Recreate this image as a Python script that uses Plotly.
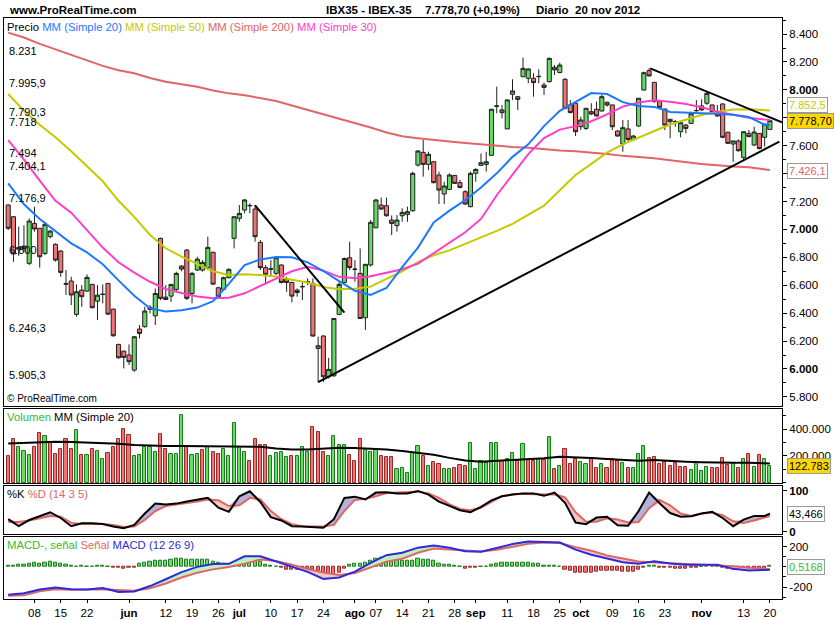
import pandas as pd
import plotly.graph_objects as go
from plotly.subplots import make_subplots

# IBEX-35 daily, 30 Apr - 20 Nov 2012 (market closed 1 May)
dates = [d for d in pd.bdate_range("2012-04-30", "2012-11-20") if d != pd.Timestamp("2012-05-01")]
x = list(range(len(dates)))

opens = [7175, 7091, 6858, 6862, 6757, 7043, 7008, 6828, 6948, 6893,
         6845, 6612, 6630, 6391, 6565, 6558, 6606, 6486, 6536, 6613,
         6429, 6176, 6128, 6100, 5992, 6286, 6303, 6441, 6381, 6936,
         6515, 6522, 6570, 6737, 6852, 6541, 6709, 6709, 6726, 6836,
         6582, 6570, 6654, 6936, 7079, 7139, 7172, 7146, 6907, 6726,
         6718, 6685, 6745, 6644, 6620, 6565, 6591, 6627, 6613, 6147,
         6236, 5944, 5951, 6391, 6620, 6797, 6716, 6685, 6367, 6745,
         7012, 7175, 7170, 7067, 7027, 7098, 7108, 7134, 7461, 7552,
         7466, 7485, 7390, 7254, 7287, 7387, 7335, 7270, 7163, 7402,
         7459, 7466, 7531, 7882, 7837, 7720, 7968, 7951, 8095, 8083,
         8083, 8097, 8035, 8059, 8162, 8124, 8076, 7892, 7904, 7736,
         7724, 7844, 7861, 7849, 7911, 7892, 7705, 7612, 7720, 7645,
         7741, 7999, 8138, 8054, 7916, 7863, 7772, 7771, 7700, 7748,
         7760, 7850, 7885, 7904, 7892, 7844, 7899, 7696, 7612, 7634,
         7516, 7688, 7605, 7688, 7660, 7717]
highs = [7180, 7095, 7020, 7030, 7079, 7163, 7010, 7055, 6996, 6900,
         6852, 6709, 6661, 6606, 6601, 6678, 6610, 6601, 6606, 6615,
         6432, 6180, 6130, 6176, 6236, 6314, 6446, 6458, 6577, 6941,
         6601, 6608, 6697, 6745, 6860, 6697, 6804, 6780, 6948, 6840,
         6589, 6661, 6721, 7093, 7175, 7218, 7187, 7175, 6924, 6745,
         6780, 6809, 6750, 6661, 6625, 6577, 6625, 6649, 6649, 6231,
         6243, 6080, 6365, 6625, 6797, 6912, 6780, 6864, 6752, 7067,
         7218, 7228, 7228, 7100, 7103, 7151, 7163, 7414, 7569, 7641,
         7557, 7490, 7414, 7342, 7402, 7390, 7354, 7282, 7414, 7438,
         7545, 7557, 7861, 8023, 7892, 7932, 8076, 7956, 8231, 8155,
         8119, 8147, 8052, 8231, 8178, 8195, 8083, 7927, 7904, 7808,
         7868, 7904, 7916, 7963, 7916, 7894, 7712, 7784, 7784, 7677,
         7940, 8131, 8155, 8054, 7927, 7863, 7789, 7784, 7772, 7755,
         7844, 7927, 7932, 7987, 7894, 7892, 7904, 7700, 7636, 7645,
         7700, 7712, 7736, 7690, 7756, 7784]
lows = [6996, 6768, 6810, 6838, 6745, 6984, 6726, 6816, 6936, 6769,
        6661, 6530, 6458, 6374, 6446, 6553, 6434, 6350, 6470, 6386,
        6231, 6075, 6004, 6028, 5980, 6219, 6296, 6398, 6315, 6494,
        6494, 6482, 6558, 6700, 6494, 6470, 6702, 6697, 6709, 6601,
        6513, 6565, 6649, 6864, 7055, 7115, 7115, 6912, 6709, 6606,
        6661, 6673, 6613, 6553, 6477, 6518, 6494, 6601, 6231, 5906,
        5906, 5932, 5944, 6386, 6613, 6709, 6625, 6357, 6279, 6733,
        7007, 7139, 7091, 6960, 6984, 7055, 7055, 7127, 7450, 7378,
        7426, 7330, 7182, 7182, 7282, 7325, 7294, 7175, 7158, 7342,
        7454, 7414, 7526, 7832, 7796, 7720, 7927, 7856, 8090, 8047,
        7951, 8047, 7963, 8052, 8107, 8119, 7861, 7832, 7669, 7712,
        7712, 7820, 7808, 7844, 7880, 7712, 7665, 7557, 7629, 7641,
        7736, 7994, 8095, 7908, 7868, 7712, 7653, 7736, 7660, 7688,
        7755, 7844, 7851, 7892, 7832, 7808, 7653, 7612, 7485, 7557,
        7497, 7660, 7598, 7574, 7593, 7717]
closes = [7008, 6824, 6872, 6880, 7060, 7003, 6804, 7036, 6988, 6780,
          6692, 6608, 6530, 6553, 6518, 6656, 6439, 6529, 6534, 6393,
          6238, 6080, 6083, 6052, 6231, 6255, 6415, 6427, 6541, 6506,
          6498, 6606, 6685, 6716, 6506, 6685, 6787, 6764, 6871, 6608,
          6518, 6654, 6714, 7091, 7115, 7211, 7170, 6948, 6726, 6678,
          6716, 6797, 6620, 6620, 6522, 6548, 6589, 6625, 6236, 6166,
          5944, 5997, 6362, 6606, 6792, 6726, 6714, 6362, 6750, 7051,
          7211, 7146, 7098, 7043, 7067, 7122, 7127, 7402, 7562, 7466,
          7538, 7335, 7282, 7311, 7390, 7330, 7301, 7182, 7402, 7430,
          7478, 7485, 7861, 7885, 7856, 7928, 7992, 7932, 8154, 8150,
          8052, 8095, 8018, 8226, 8143, 8178, 7868, 7837, 7700, 7784,
          7868, 7827, 7813, 7951, 7892, 7736, 7669, 7729, 7645, 7669,
          7940, 8123, 8100, 7916, 7875, 7748, 7789, 7773, 7765, 7724,
          7832, 7852, 7856, 7975, 7844, 7813, 7660, 7617, 7634, 7564,
          7700, 7665, 7698, 7579, 7755, 7778.7]

# volume in thousands, colour as drawn ("g" up / "r" down)
volume_k = [199, 323, 263, 236, 206, 263, 367, 348, 305, 213,
            248, 323, 248, 392, 206, 206, 248, 236, 174, 218,
            268, 323, 397, 355, 198, 206, 268, 263, 231, 362,
            248, 213, 213, 504, 268, 206, 213, 243, 268, 231,
            213, 248, 198, 442, 263, 231, 161, 323, 281, 281,
            198, 218, 231, 189, 198, 198, 263, 231, 412, 375,
            231, 198, 348, 281, 281, 206, 161, 323, 243, 231,
            243, 198, 189, 194, 99, 107, 74, 218, 273, 199,
            124, 154, 137, 99, 99, 107, 129, 124, 298, 99,
            164, 149, 298, 298, 164, 174, 223, 161, 286, 169,
            164, 174, 169, 338, 99, 124, 248, 139, 174, 154,
            139, 186, 112, 139, 107, 174, 161, 149, 107, 107,
            213, 273, 181, 189, 139, 156, 124, 149, 114, 114,
            94, 149, 89, 114, 107, 107, 181, 132, 144, 107,
            174, 213, 114, 206, 174, 122.783]
volume_dir = ("rrgggrrgrr" "rrrgrgrggr" "rrrrgggggr" "rgggrggrgr" "rgggggrrrr"
              "ggggrgggrr" "rggggrrrgg" "grrrgggggr" "grrggrrrgg" "ggggrggrgr"
              "rgrgrgrrrg" "grrgrrrgrg" "ggrrrrrrrr" "ggggrrrrgr" "grgrgg")

# moving averages, read every 3 sessions
ma_x = list(range(0, 145, 3)) + [145]
ma20 = [7330, 7180, 7075, 6990, 6900, 6835, 6750, 6635, 6525, 6434,
        6412, 6420, 6440, 6485, 6610, 6745, 6785, 6803, 6800, 6764,
        6702, 6630, 6560, 6530, 6580, 6730, 6870, 7050, 7135, 7210,
        7300, 7402, 7520, 7610, 7740, 7850, 7912, 7977, 7970, 7912,
        7885, 7878, 7842, 7835, 7832, 7828, 7821, 7805, 7750, 7748]
ma30 = [7640, 7500, 7350, 7205, 7120, 6995, 6870, 6765, 6690, 6625,
        6573, 6544, 6520, 6506, 6510, 6542, 6596, 6650, 6700, 6733,
        6705, 6660, 6650, 6665, 6690, 6715, 6755, 6830, 6900, 6980,
        7075, 7245, 7392, 7540, 7655, 7715, 7740, 7775, 7825, 7880,
        7910, 7925, 7915, 7898, 7875, 7844, 7822, 7800, 7787, 7784]
ma50 = [7970, 7850, 7750, 7660, 7560, 7455, 7345, 7205, 7090, 6960,
        6865, 6805, 6752, 6700, 6673, 6678, 6674, 6662, 6640, 6620,
        6587, 6572, 6575, 6590, 6645, 6700, 6765, 6815, 6850, 6895,
        6940, 6990, 7040, 7105, 7170, 7280, 7390, 7470, 7550, 7610,
        7660, 7705, 7752, 7786, 7820, 7844, 7860, 7862, 7854, 7852.5]
ma200 = [8410, 8375, 8330, 8290, 8255, 8210, 8172, 8140, 8119, 8085,
         8058, 8040, 8023, 7995, 7975, 7962, 7942, 7920, 7888, 7857,
         7826, 7797, 7766, 7730, 7695, 7668, 7654, 7640, 7630, 7620,
         7609, 7598, 7590, 7585, 7574, 7566, 7561, 7553, 7540, 7527,
         7520, 7510, 7496, 7480, 7468, 7460, 7450, 7446, 7432, 7426.1]
vol_ma_k = [293, 298, 305, 305, 304, 300, 297, 290, 281, 276,
            273, 273, 273, 270, 268, 268, 268, 255, 248, 248,
            252, 260, 258, 254, 248, 236, 222, 208, 185, 165,
            157, 163, 173, 175, 182, 194, 191, 184, 177, 168,
            164, 169, 161, 156, 152, 149, 149, 149, 145, 144]
macd = [-276, -262, -225, -205, -222, -225, -210, -248, -243, -190,
        -123, -52, 0, 28, 30, 105, 105, 55, 5, -50,
        -120, -105, -48, 40, 115, 140, 190, 212, 188, 155,
        150, 185, 225, 250, 245, 240, 170, 120, 82, 45,
        30, 55, 33, 20, 20, 22, -20, -35, -30, -29]
signal = [-285, -282, -242, -222, -226, -226, -221, -230, -236, -212,
          -165, -105, -58, -25, -2, 32, 72, 58, 22, -22,
          -55, -80, -60, -5, 50, 80, 140, 182, 170, 158,
          151, 168, 198, 228, 240, 235, 195, 160, 113, 80,
          52, 44, 37, 28, 20, 18, 5, -10, -21, -23]
macd_hist = [16, 16, 20, 23, 30, 39, 33, 39, 49, 39,
             33, 23, 13, 5, 8, 5, 3, 8, 10, 5,
             -5, -13, -15, -13, -5, 33, 39, 49, 56, 56,
             62, 69, 79, 79, 75, 72, 66, 66, 66, 49,
             39, 33, 23, 39, 56, 72, 79, 72, 46, 23,
             13, 3, -10, -26, -33, -33, -33, -26, -33, -43,
             -59, -75, -75, -59, -20, 23, 33, 33, 39, 56,
             79, 89, 89, 79, 66, 62, 56, 56, 79, 72,
             66, 56, 33, 23, 23, 13, 5, -20, -10, -10,
             0, 5, 23, 33, 39, 39, 39, 39, 39, 39,
             33, 30, 16, 16, 16, 5, -26, -43, -59, -59,
             -59, -59, -52, -43, -43, -43, -43, -52, -52, -52,
             -33, -5, 7, 7, -5, -10, -10, -20, -20, -20,
             -10, -10, 0, 7, 13, 0, -10, -20, -26, -33,
             -33, -26, -33, -33, -20, 8]

# stochastic, read every 2 sessions
st_x = list(range(0, 145, 2)) + [145]
stoch_k = [30, 13, 28, 38, 47, 33, 13, 20, 20, 18, 12, 8, 16, 44, 68, 66, 68, 73, 77, 82,
           58, 48, 86, 98, 72, 35, 27, 13, 12, 11, 9, 30, 82, 85, 78, 95, 96, 93, 93, 99,
           90, 73, 62, 52, 47, 60, 76, 86, 90, 93, 93, 87, 95, 70, 22, 18, 34, 36, 15, 14,
           50, 95, 69, 45, 36, 37, 44, 48, 33, 13, 29, 38, 38, 43.466]
stoch_d = [23, 23, 27, 32, 38, 36, 21, 18, 18, 18, 16, 11, 12, 28, 50, 62, 66, 69, 73, 78,
           76, 62, 64, 82, 78, 50, 30, 18, 13, 12, 12, 16, 50, 77, 80, 86, 94, 95, 96, 97,
           93, 82, 66, 55, 52, 58, 72, 86, 90, 92, 91, 91, 90, 83, 47, 24, 24, 32, 29, 22,
           23, 57, 77, 64, 44, 38, 44, 46, 40, 25, 21, 27, 35, 38]

# drawn levels and trend lines
solid_levels = [8231, 7404.1, 7176.9, 5905.3]
solid_labels = ["8.231", "7.404,1", "7.176,9", "5.905,3"]
dash_levels = [7995.9, 7790.3, 7718, 7494, 6800, 6246.3]
dash_labels = ["7.995,9", "7.790,3", "7.718", "7.494", "6.800", "6.246,3"]
trend_lines = [([47, 64], [7172, 6403]),
               ([59, 146.8], [5905, 7629]),
               ([122.2, 147.3], [8154, 7767])]

tick_days = ["2012-05-08", "2012-05-15", "2012-05-22", "2012-06-01", "2012-06-12", "2012-06-19",
             "2012-06-26", "2012-07-02", "2012-07-10", "2012-07-17", "2012-07-24", "2012-08-01",
             "2012-08-07", "2012-08-14", "2012-08-21", "2012-08-28", "2012-09-03", "2012-09-11",
             "2012-09-18", "2012-09-25", "2012-10-01", "2012-10-09", "2012-10-16", "2012-10-23",
             "2012-11-01", "2012-11-13", "2012-11-20"]
tick_text = ["08", "15", "22", "<b>jun</b>", "12", "19", "26", "<b>jul</b>", "10", "17", "24",
             "<b>ago</b>", "07", "14", "21", "28", "<b>sep</b>", "11", "18", "25", "<b>oct</b>",
             "09", "16", "23", "<b>nov</b>", "13", "20"]
tick_pos = [dates.index(pd.Timestamp(d)) for d in tick_days]

C_MA20 = "#1E78FF"
C_MA50 = "#C8C800"
C_MA200 = "#E06666"
C_MA30 = "#FF3EC8"
C_RED = "#E06666"
C_GREEN = "#33BB33"
C_BLUE = "#2B2BD8"

fig = make_subplots(rows=4, cols=1, shared_xaxes=True, vertical_spacing=0.005)

# ---- price panel
for lv in dash_levels:
    fig.add_hline(y=lv, line=dict(color="#EE1111", width=1, dash="19px,9px"), layer="below", row=1, col=1)
for lv in solid_levels:
    fig.add_hline(y=lv, line=dict(color="black", width=2.2), layer="below", row=1, col=1)

fig.add_trace(go.Candlestick(
    x=x, open=opens, high=highs, low=lows, close=closes, whiskerwidth=0,
    increasing=dict(fillcolor="#66D866", line=dict(color="#1F1F1F", width=1)),
    decreasing=dict(fillcolor="#EE7474", line=dict(color="#1F1F1F", width=1)),
    hoverinfo="skip"), row=1, col=1)

for vals, col in [(ma200, C_MA200), (ma50, C_MA50), (ma30, C_MA30), (ma20, C_MA20)]:
    fig.add_trace(go.Scatter(x=ma_x, y=vals, mode="lines", line=dict(color=col, width=2)), row=1, col=1)

for tx, ty in trend_lines:
    fig.add_trace(go.Scatter(x=tx, y=ty, mode="lines", line=dict(color="black", width=2)), row=1, col=1)

# ---- volume panel
vol = [v * 1000 for v in volume_k]
fig.add_trace(go.Bar(
    x=x, y=vol, width=0.6,
    marker=dict(color=["#66DD66" if d == "g" else "#F07474" for d in volume_dir],
                line=dict(color=["#1E7A1E" if d == "g" else "#9A2A2A" for d in volume_dir], width=1))),
    row=2, col=1)
fig.add_trace(go.Scatter(x=ma_x, y=[v * 1000 for v in vol_ma_k], mode="lines",
                         line=dict(color="black", width=2)), row=2, col=1)

# ---- stochastic panel
k_hi = [max(a, b) for a, b in zip(stoch_k, stoch_d)]
k_lo = [min(a, b) for a, b in zip(stoch_k, stoch_d)]
fig.add_hline(y=80, line=dict(color=C_BLUE, width=1), layer="below", row=3, col=1)
fig.add_hline(y=20, line=dict(color=C_BLUE, width=1), layer="below", row=3, col=1)
fig.add_trace(go.Scatter(x=st_x, y=stoch_d, mode="lines", line=dict(width=0)), row=3, col=1)
fig.add_trace(go.Scatter(x=st_x, y=k_hi, mode="lines", line=dict(width=0),
                         fill="tonexty", fillcolor="#B2B2DA"), row=3, col=1)
fig.add_trace(go.Scatter(x=st_x, y=stoch_d, mode="lines", line=dict(width=0)), row=3, col=1)
fig.add_trace(go.Scatter(x=st_x, y=k_lo, mode="lines", line=dict(width=0),
                         fill="tonexty", fillcolor="#F6C6C6"), row=3, col=1)
fig.add_trace(go.Scatter(x=st_x, y=stoch_d, mode="lines", line=dict(color=C_RED, width=2)), row=3, col=1)
fig.add_trace(go.Scatter(x=st_x, y=stoch_k, mode="lines", line=dict(color="black", width=2)), row=3, col=1)

# ---- MACD panel
m_hi = [max(a, b) for a, b in zip(macd, signal)]
m_lo = [min(a, b) for a, b in zip(macd, signal)]
fig.add_hline(y=0, line=dict(color=C_BLUE, width=1), layer="below", row=4, col=1)
fig.add_trace(go.Bar(
    x=x, y=macd_hist, width=0.6,
    marker=dict(color=["#66DD66" if h >= 0 else "#F07474" for h in macd_hist],
                line=dict(color=["#1E7A1E" if h >= 0 else "#9A2A2A" for h in macd_hist], width=1))),
    row=4, col=1)
fig.add_trace(go.Scatter(x=ma_x, y=signal, mode="lines", line=dict(width=0)), row=4, col=1)
fig.add_trace(go.Scatter(x=ma_x, y=m_hi, mode="lines", line=dict(width=0),
                         fill="tonexty", fillcolor="#BFF0BF"), row=4, col=1)
fig.add_trace(go.Scatter(x=ma_x, y=signal, mode="lines", line=dict(width=0)), row=4, col=1)
fig.add_trace(go.Scatter(x=ma_x, y=m_lo, mode="lines", line=dict(width=0),
                         fill="tonexty", fillcolor="#F6C6C6"), row=4, col=1)
fig.add_trace(go.Scatter(x=ma_x, y=signal, mode="lines", line=dict(color=C_RED, width=2)), row=4, col=1)
fig.add_trace(go.Scatter(x=ma_x, y=macd, mode="lines", line=dict(color=C_BLUE, width=2)), row=4, col=1)

# ---- axes
axis_common = dict(showline=True, mirror=True, linecolor="black", linewidth=1, automargin=False,
                   showgrid=False, zeroline=False, fixedrange=True)
fig.update_xaxes(**axis_common, range=[-0.8, 147.3], rangeslider_visible=False, ticks="", showticklabels=False)
fig.update_xaxes(row=4, col=1, ticks="outside", ticklen=3, tickcolor="black", showticklabels=True,
                 tickvals=tick_pos, ticktext=tick_text, tickfont=dict(size=11.5))
fig.update_yaxes(**axis_common, side="right", ticks="outside", ticklen=4, tickcolor="black",
                 tickfont=dict(size=11.5))

price_ticks = list(range(5800, 8401, 200))
price_text = ["5.800", "<b>6.000</b>", "6.200", "6.400", "6.600", "6.800", "<b>7.000</b>",
              "7.200", "", "7.600", "", "<b>8.000</b>", "8.200", "8.400"]
fig.update_yaxes(row=1, col=1, range=[5738, 8515], tickvals=price_ticks, ticktext=price_text,
                 minor=dict(ticks="outside", ticklen=3, dtick=100, tick0=0, tickcolor="black"))
fig.update_yaxes(row=2, col=1, range=[-4500, 549000], tickvals=[200000, 400000],
                 ticktext=["200.000", "400.000"],
                 minor=dict(ticks="outside", ticklen=3, dtick=100000, tick0=0, tickcolor="black"))
fig.update_yaxes(row=3, col=1, range=[-6.8, 111], tickvals=[0, 100], ticktext=["<b>0</b>", "<b>100</b>"])
fig.update_yaxes(row=4, col=1, range=[-318, 298], tickvals=[-200, 200], ticktext=["-200", "200"],
                 minor=dict(ticks="outside", ticklen=3, dtick=100, tick0=0, tickcolor="black"))

fig.update_layout(
    width=835, height=620,
    margin=dict(l=4, r=53, t=18, b=21),
    paper_bgcolor="white", plot_bgcolor="white",
    showlegend=False, bargap=0, boxgap=0.22, boxgroupgap=0,
    font=dict(family="Liberation Sans, Arial, sans-serif", size=11, color="black"),
    yaxis=dict(domain=[0.333, 1.0]),
    yaxis2=dict(domain=[0.1991, 0.327]),
    yaxis3=dict(domain=[0.1114, 0.1945]),
    yaxis4=dict(domain=[0.0, 0.1072]),
)


def pp(xpx, ypx):
    return (xpx - 4) / 778, (599 - ypx) / 581


def note(text, xpx, ypx, size=11, color="black"):
    px_, py_ = pp(xpx, ypx)
    fig.add_annotation(text=text, xref="paper", yref="paper", x=px_, y=py_,
                       xanchor="left", yanchor="middle", showarrow=False,
                       font=dict(size=size, color=color))


# header
note("<b>www.ProRealTime.com</b>", 7, 10, size=11.5)
note("<b>IBX35 - IBEX-35</b>", 324, 10, size=11.5)
note("<b>7.778,70 (+0,19%)</b>", 423, 10, size=11.5)
note("<b>Diario  20 nov 2012</b>", 534, 10, size=11.5)

# panel captions
note('Precio <span style="color:%s">MM (Simple 20)</span> <span style="color:%s">MM (Simple 50)</span> '
     '<span style="color:%s">MM (Simple 200)</span> <span style="color:%s">MM (Simple 30)</span>'
     % (C_MA20, C_MA50, C_MA200, C_MA30), 5, 27, size=11.3)
note("© ProRealTime.com", 5, 398, size=10)
note('<span style="color:%s">Volumen</span> MM (Simple 20)' % C_GREEN, 5, 417, size=11.3)
note('%%K <span style="color:%s">%%D (14 3 5)</span>' % C_RED, 5, 494, size=11.3)
note('<span style="color:%s">MACD-, señal</span> <span style="color:%s">Señal</span> '
     '<span style="color:%s">MACD (12 26 9)</span>' % (C_GREEN, C_RED, C_BLUE), 5, 545, size=11.3)

# level labels on the left
for lv, lab in zip(solid_levels + dash_levels, solid_labels + dash_labels):
    fig.add_annotation(text=lab, xref="x domain", yref="y", x=0, y=lv, xanchor="left", yanchor="bottom",
                       xshift=3, yshift=-1, showarrow=False, font=dict(size=11))


# value boxes on the right axis
def box(text, yref, yval, color="black", bg="white"):
    fig.add_annotation(text=text, xref="x domain", yref=yref, x=1, y=yval, xanchor="left",
                       yanchor="middle", xshift=5, showarrow=False, font=dict(size=11, color=color),
                       bgcolor=bg, bordercolor="#9A9A9A", borderwidth=1, borderpad=1)


box("7.852,5", "y", ma50[-1] + 40, color=C_MA50)
box("7.778,70", "y", closes[-1], bg="#FFD700")
box("7.426,1", "y", ma200[-1] - 10, color=C_MA200)
box("122.783", "y2", volume_k[-1] * 1000, bg="#FFD700")
box("43,466", "y3", stoch_k[-1])
box("0,5168", "y4", 0, color=C_GREEN)

# page body margin would shift the figure by 8px
fig.write_html("out.html", config={"displayModeBar": False},
               post_script="document.body.style.margin='0px';")
